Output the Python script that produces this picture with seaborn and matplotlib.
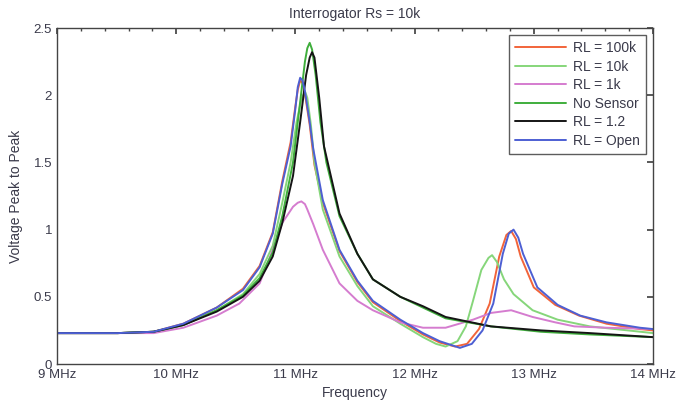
import seaborn as sns
import matplotlib.pyplot as plt
import matplotlib.ticker as mticker
import pandas as pd

# values, frequency in MHz, voltage peak to peak
f_100k = [9.0, 9.51, 9.81, 10.06, 10.34, 10.56, 10.70, 10.81, 10.89, 10.96, 11.00, 11.02, 11.04, 11.06, 11.08,
          11.12, 11.16, 11.23, 11.37, 11.52, 11.65, 11.88, 12.07, 12.21, 12.34, 12.44, 12.54, 12.63, 12.71,
          12.77, 12.81, 12.85, 12.89, 13.00, 13.18, 13.38, 13.61, 13.89, 14.0]
v_100k = [0.23, 0.23, 0.24, 0.30, 0.42, 0.56, 0.73, 0.98, 1.36, 1.65, 1.92, 2.04, 2.11, 2.09, 2.01,
          1.78, 1.48, 1.20, 0.84, 0.61, 0.46, 0.32, 0.22, 0.16, 0.13, 0.15, 0.26, 0.45, 0.80,
          0.96, 0.99, 0.93, 0.80, 0.57, 0.44, 0.36, 0.30, 0.26, 0.25]

f_10k = [9.0, 9.51, 9.81, 10.06, 10.34, 10.56, 10.70, 10.81, 10.89, 10.96, 11.01, 11.05, 11.08, 11.10, 11.13,
         11.16, 11.23, 11.37, 11.52, 11.65, 11.88, 12.07, 12.18, 12.26, 12.36, 12.43, 12.49, 12.56, 12.62,
         12.65, 12.69, 12.75, 12.83, 12.99, 13.20, 13.47, 13.79, 14.0]
v_10k = [0.23, 0.23, 0.24, 0.29, 0.40, 0.52, 0.67, 0.88, 1.20, 1.50, 1.80, 1.97, 2.03, 1.98, 1.78,
         1.50, 1.15, 0.80, 0.58, 0.43, 0.30, 0.20, 0.15, 0.13, 0.17, 0.28, 0.47, 0.70, 0.79,
         0.81, 0.76, 0.63, 0.52, 0.40, 0.33, 0.28, 0.25, 0.23]

f_1k = [9.0, 9.51, 9.81, 10.06, 10.34, 10.53, 10.70, 10.81, 10.89, 10.98, 11.02, 11.05, 11.08, 11.10, 11.15,
        11.23, 11.37, 11.52, 11.65, 11.88, 12.07, 12.26, 12.49, 12.64, 12.81, 12.99, 13.18, 13.34, 13.61, 14.0]
v_1k = [0.23, 0.23, 0.23, 0.27, 0.36, 0.45, 0.60, 0.85, 1.05, 1.17, 1.20, 1.21, 1.19, 1.15, 1.04,
        0.85, 0.60, 0.47, 0.40, 0.31, 0.27, 0.27, 0.33, 0.38, 0.40, 0.35, 0.31, 0.28, 0.27, 0.26]

f_nosensor = [9.0, 9.51, 9.81, 10.06, 10.34, 10.56, 10.70, 10.81, 10.89, 10.98, 11.04, 11.08, 11.10, 11.12,
              11.14, 11.17, 11.21, 11.26, 11.37, 11.52, 11.65, 11.88, 12.07, 12.26, 12.64, 13.06, 13.47, 14.0]
v_nosensor = [0.23, 0.23, 0.24, 0.29, 0.40, 0.51, 0.64, 0.83, 1.10, 1.50, 1.95, 2.25, 2.35, 2.39,
              2.34, 2.15, 1.80, 1.50, 1.10, 0.82, 0.63, 0.50, 0.42, 0.34, 0.28, 0.24, 0.22, 0.20]

f_12 = [9.0, 9.51, 9.81, 10.06, 10.34, 10.56, 10.70, 10.81, 10.89, 10.98, 11.04, 11.09, 11.12, 11.14,
        11.16, 11.20, 11.24, 11.37, 11.52, 11.65, 11.88, 12.07, 12.26, 12.64, 13.06, 13.47, 14.0]
v_12 = [0.23, 0.23, 0.24, 0.29, 0.39, 0.50, 0.62, 0.80, 1.05, 1.40, 1.80, 2.15, 2.28, 2.32,
        2.28, 1.98, 1.62, 1.12, 0.82, 0.63, 0.50, 0.43, 0.35, 0.28, 0.25, 0.23, 0.20]

f_open = [9.0, 9.51, 9.81, 10.06, 10.34, 10.56, 10.70, 10.81, 10.89, 10.96, 11.00, 11.02, 11.04, 11.06, 11.08,
          11.12, 11.15, 11.23, 11.37, 11.52, 11.65, 11.88, 12.07, 12.21, 12.38, 12.48, 12.57, 12.66, 12.74,
          12.79, 12.83, 12.87, 12.91, 13.03, 13.20, 13.39, 13.61, 13.89, 14.0]
v_open = [0.23, 0.23, 0.24, 0.30, 0.42, 0.55, 0.72, 0.97, 1.34, 1.62, 1.90, 2.06, 2.13, 2.11, 2.03,
          1.80, 1.60, 1.22, 0.85, 0.62, 0.47, 0.33, 0.23, 0.17, 0.12, 0.15, 0.25, 0.45, 0.82,
          0.97, 1.00, 0.94, 0.82, 0.57, 0.44, 0.36, 0.31, 0.27, 0.26]

names = ['RL = 100k', 'RL = 10k', 'RL = 1k', 'No Sensor', 'RL = 1.2', 'RL = Open']
freqs = [f_100k, f_10k, f_1k, f_nosensor, f_12, f_open]
volts = [v_100k, v_10k, v_1k, v_nosensor, v_12, v_open]
colors = ['#f2643a', '#86d67a', '#d57ccf', '#3fae3c', '#151515', '#4d5fd3']

# long form table for seaborn
rows = []
for name, fs, vs in zip(names, freqs, volts):
    for fx, vx in zip(fs, vs):
        rows.append({'freq': fx, 'volt': vx, 'series': name})
data = pd.DataFrame(rows)

sns.set_theme(style='white')
plt.rcParams['font.family'] = ['Liberation Sans', 'DejaVu Sans']
txt = '#3a3a4a'

fig = plt.figure(figsize=(6.8, 4.05), dpi=100)
ax = fig.add_axes([0.0838, 0.1012, 0.8765, 0.8296])

sns.lineplot(data=data, x='freq', y='volt', hue='series', hue_order=names,
             palette=dict(zip(names, colors)), estimator=None, sort=True,
             linewidth=1.4, ax=ax)

ax.set_xlim(9, 14)
ax.set_ylim(0, 2.5)
ax.xaxis.set_major_locator(mticker.MultipleLocator(1))
ax.xaxis.set_minor_locator(mticker.MultipleLocator(0.2))
ax.xaxis.set_major_formatter(mticker.FuncFormatter(lambda v, p: f'{v:.0f} MHz'))
ax.yaxis.set_major_locator(mticker.MultipleLocator(0.5))
ax.yaxis.set_major_formatter(mticker.FuncFormatter(lambda v, p: f'{v:g}'))
ax.tick_params(which='both', direction='in', top=True, right=True, colors='#444444',
               labelcolor=txt, labelsize=9.5)
ax.tick_params(which='major', length=4)
ax.tick_params(which='minor', length=2.5)
for s in ax.spines.values():
    s.set_color('#444444')
    s.set_linewidth(1.0)

ax.set_xlabel('Frequency', fontsize=10, color=txt, labelpad=4)
ax.set_ylabel('Voltage Peak to Peak', fontsize=10, color=txt, labelpad=8)
ax.set_title('Interrogator Rs = 10k', fontsize=10, color=txt, pad=7)

leg = ax.legend(loc='upper right', fontsize=10, handlelength=3.7, handletextpad=0.45,
                frameon=True, fancybox=False, borderpad=0.45, labelspacing=0.32,
                borderaxespad=0, bbox_to_anchor=(0.988, 0.979))
leg.get_frame().set_edgecolor('#333333')
leg.get_frame().set_linewidth(1.0)
for t in leg.get_texts():
    t.set_color(txt)

fig.savefig('out.png', dpi=100)
